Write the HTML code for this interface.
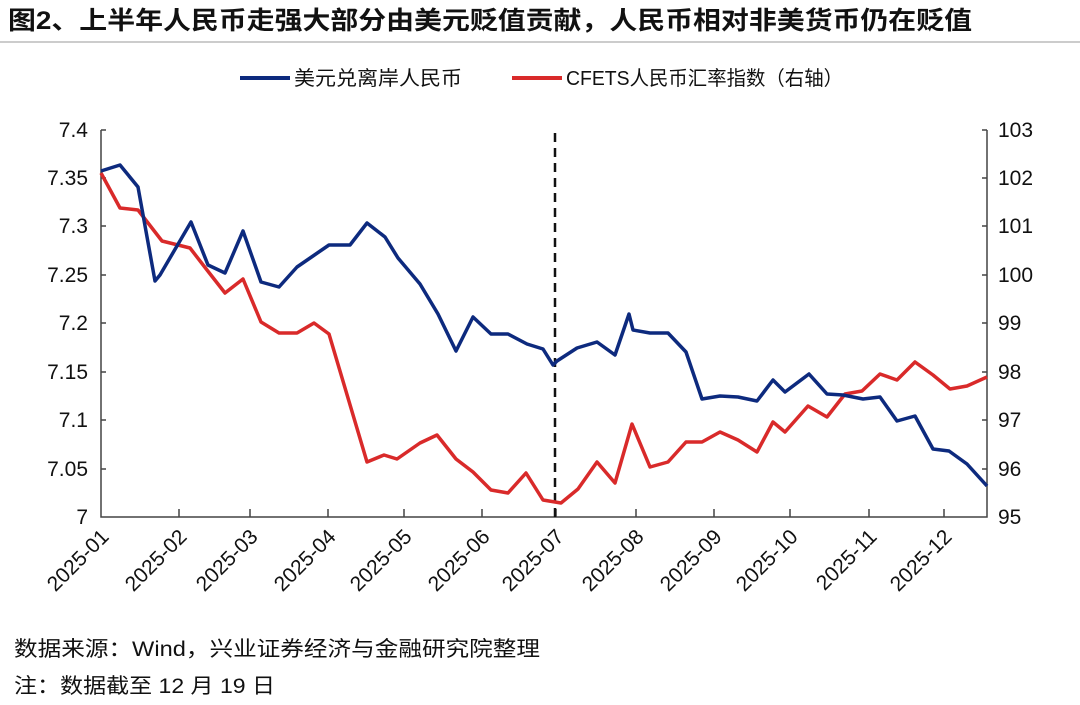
<!DOCTYPE html>
<html><head><meta charset="utf-8"><style>
body{margin:0;background:#fff;width:1080px;height:700px;overflow:hidden}
svg text{font-family:"Liberation Sans","Noto Sans CJK SC",sans-serif}
</style></head><body>
<svg width="1080" height="700" xmlns="http://www.w3.org/2000/svg">
<text x="8" y="29" font-size="25" font-weight="bold" fill="#111" textLength="964" lengthAdjust="spacingAndGlyphs">图2、上半年人民币走强大部分由美元贬值贡献，人民币相对非美货币仍在贬值</text>
<line x1="0" y1="42" x2="1080" y2="42" stroke="#999" stroke-width="1"/>
<line x1="240" y1="78" x2="290" y2="78" stroke="#0d2a7e" stroke-width="4"/>
<text x="294" y="85" font-size="20" fill="#111" textLength="168" lengthAdjust="spacingAndGlyphs">美元兑离岸人民币</text>
<line x1="512" y1="78" x2="562" y2="78" stroke="#d92a2a" stroke-width="4"/>
<text x="566" y="85" font-size="20" fill="#111" textLength="277" lengthAdjust="spacingAndGlyphs">CFETS人民币汇率指数（右轴）</text>
<g stroke="#444" stroke-width="1.5" fill="none">
<path d="M101,130 V517 H987 V130"/>
<path d="M101,178h5M101,226h5M101,275h5M101,323h5M101,372h5M101,420h5M101,469h5M101,130h5"/>
<path d="M987,130h-5M987,178h-5M987,226h-5M987,275h-5M987,323h-5M987,372h-5M987,420h-5M987,469h-5"/>
<path d="M179,517v-8M250,517v-8M328,517v-8M404,517v-8M482,517v-8M556,517v-8M636,517v-8M714,517v-8M790,517v-8M869,517v-8M944,517v-8"/>
</g>
<g font-size="21" fill="#111" text-anchor="end">
<text x="88" y="137">7.4</text><text x="88" y="185">7.35</text><text x="88" y="233">7.3</text><text x="88" y="282">7.25</text><text x="88" y="330">7.2</text><text x="88" y="379">7.15</text><text x="88" y="427">7.1</text><text x="88" y="476">7.05</text><text x="88" y="524">7</text>
</g>
<g font-size="21" fill="#111">
<text x="998" y="137">103</text><text x="998" y="185">102</text><text x="998" y="233">101</text><text x="998" y="282">100</text><text x="998" y="330">99</text><text x="998" y="379">98</text><text x="998" y="427">97</text><text x="998" y="476">96</text><text x="998" y="524">95</text>
</g>
<g font-size="21" fill="#111" text-anchor="end">
<text transform="translate(110,538) rotate(-45)">2025-01</text>
<text transform="translate(188,538) rotate(-45)">2025-02</text>
<text transform="translate(259,538) rotate(-45)">2025-03</text>
<text transform="translate(337,538) rotate(-45)">2025-04</text>
<text transform="translate(413,538) rotate(-45)">2025-05</text>
<text transform="translate(491,538) rotate(-45)">2025-06</text>
<text transform="translate(565,538) rotate(-45)">2025-07</text>
<text transform="translate(645,538) rotate(-45)">2025-08</text>
<text transform="translate(723,538) rotate(-45)">2025-09</text>
<text transform="translate(799,538) rotate(-45)">2025-10</text>
<text transform="translate(878,538) rotate(-45)">2025-11</text>
<text transform="translate(953,538) rotate(-45)">2025-12</text>
</g>
<line x1="555" y1="133" x2="555" y2="517" stroke="#111" stroke-width="2.5" stroke-dasharray="9,6"/>
<polyline fill="none" stroke="#d92a2a" stroke-width="3.5" stroke-linejoin="round" points="101,173 120,208 138,210 162,241 190,248 207,270 225,293 243,279 261,322 279,333 297,333 314,323 329,334 367,462 384,455 397,459 420,443 437,435 456,459 473,472 491,490 508,493 526,473 543,500 561,503 578,489 597,462 615,483 632,424 650,467 668,462 686,442 702,442 720,432 738,440 757,452 773,422 785,432 808,406 827,417 845,394 862,391 880,374 897,380 915,362 933,375 950,389 967,386 987,377"/>
<polyline fill="none" stroke="#0d2a7e" stroke-width="3.5" stroke-linejoin="round" points="101,171 120,165 138,187 155,281 160,275 191,222 208,265 225,273 243,231 261,282 279,287 297,267 313,256 329,245 350,245 367,223 385,237 398,258 420,284 438,314 456,351 473,317 491,334 508,334 527,344 543,349 553,365 557,361 577,348 597,342 615,355 629,314 633,330 650,333 668,333 686,352 702,399 720,396 738,397 757,401 773,380 785,392 809,374 827,394 843,395 863,399 880,397 897,421 915,416 933,449 949,451 967,464 987,486"/>
<text x="14" y="656" font-size="21" fill="#111" textLength="526" lengthAdjust="spacingAndGlyphs">数据来源：Wind，兴业证券经济与金融研究院整理</text>
<text x="14" y="693" font-size="21" fill="#111" textLength="261" lengthAdjust="spacingAndGlyphs">注：数据截至 12 月 19 日</text>
</svg>
</body></html>
